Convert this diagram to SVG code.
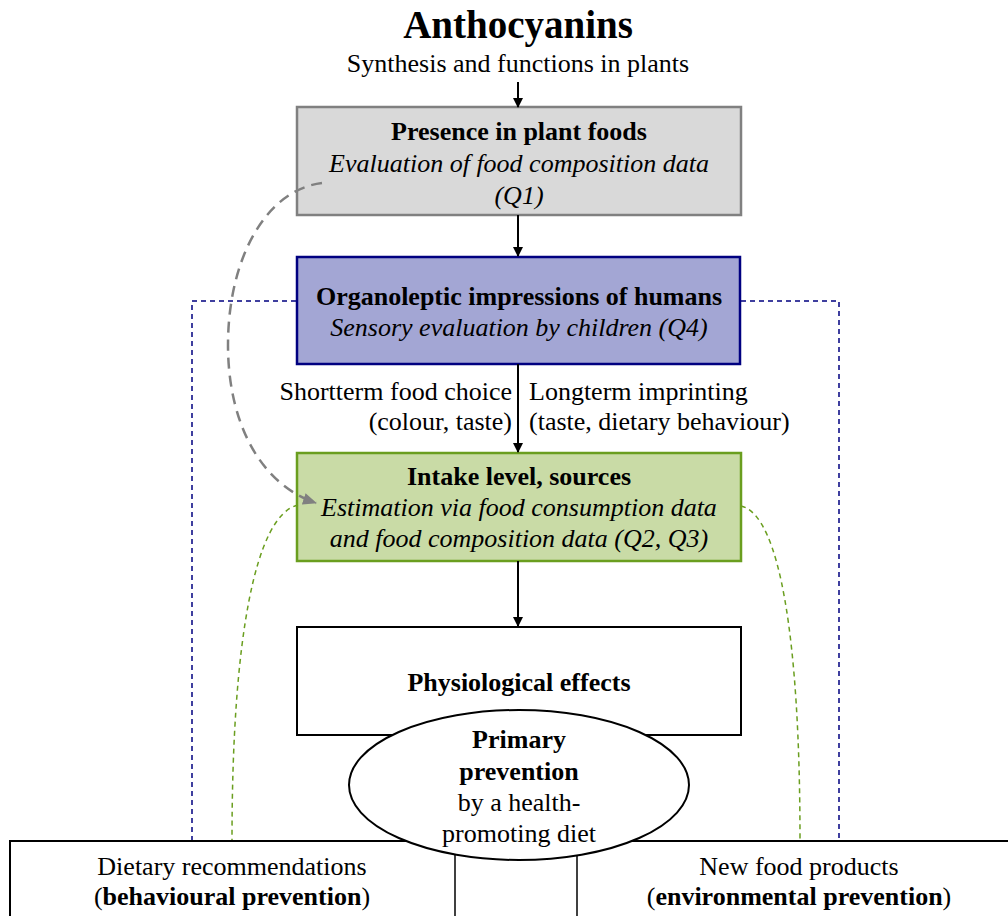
<svg xmlns="http://www.w3.org/2000/svg" width="1008" height="916" viewBox="0 0 1008 916">
<style>
text{font-family:"Liberation Serif","Times New Roman",serif;font-size:26px;fill:#000;text-anchor:middle}
.b{font-weight:bold}
.i{font-style:italic}
.title{font-size:39px;font-weight:bold}
.l{text-anchor:start}
.r{text-anchor:end}
.box{stroke-width:2.5}
.arrow{stroke:#000;stroke-width:2;fill:none;marker-end:url(#ah)}
</style>
<defs>
<marker id="ah" markerWidth="10" markerHeight="10" refX="9" refY="5" orient="auto" markerUnits="userSpaceOnUse">
<path d="M0,0 L10,5 L0,10 z" fill="#000"/>
</marker>
<marker id="ahg" markerWidth="14" markerHeight="12" refX="13" refY="6" orient="auto" markerUnits="userSpaceOnUse">
<path d="M0,0 L14,6 L0,12 z" fill="#808080"/>
</marker>
</defs>
<g id="header">
<text class="title" x="518" y="38">Anthocyanins</text>
<text x="518" y="72">Synthesis and functions in plants</text>
</g>
<g id="bottom">
<path d="M10,916 L10,841 L1010,841" fill="none" stroke="#000" stroke-width="2"/>
<line x1="455" y1="850" x2="455" y2="916" stroke="#000" stroke-width="1.5"/>
<line x1="577" y1="850" x2="577" y2="916" stroke="#000" stroke-width="1.5"/>
<text x="232" y="875">Dietary recommendations</text>
<text x="232" y="905">(<tspan class="b">behavioural prevention</tspan>)</text>
<text x="799" y="875">New food products</text>
<text x="799" y="905">(<tspan class="b">environmental prevention</tspan>)</text>
</g>
<g id="physio">
<rect x="297" y="627" width="444" height="108" fill="#fff" stroke="#000" stroke-width="2"/>
<text class="b" x="519" y="691">Physiological effects</text>
</g>
<g id="prevention">
<ellipse cx="519" cy="785" rx="170" ry="75" fill="#fff" stroke="#000" stroke-width="2"/>
<text class="b" x="519" y="748">Primary</text>
<text class="b" x="519" y="780">prevention</text>
<text x="519" y="811">by a health-</text>
<text x="519" y="842">promoting diet</text>
</g>
<g id="presence">
<rect class="box" x="297" y="107" width="444" height="108" fill="#d9d9d9" stroke="#808080"/>
<text class="b" x="519" y="140">Presence in plant foods</text>
<text class="i" x="519" y="172">Evaluation of food composition data</text>
<text class="i" x="519" y="204">(Q1)</text>
</g>
<g id="organoleptic">
<rect class="box" x="297" y="257" width="443" height="107" fill="#a3a6d4" stroke="#000080"/>
<text class="b" x="519" y="305">Organoleptic impressions of humans</text>
<text class="i" x="519" y="336">Sensory evaluation by children (Q4)</text>
</g>
<g id="intake">
<rect class="box" x="297" y="453" width="444" height="108" fill="#c9dba6" stroke="#6a9e1f"/>
<text class="b" x="519" y="485">Intake level, sources</text>
<text class="i" x="519" y="516">Estimation via food consumption data</text>
<text class="i" x="519" y="547">and food composition data (Q2, Q3)</text>
</g>
<g id="connectors">
<path d="M296,301 L192,301 L192,840" fill="none" stroke="#000080" stroke-width="1.5" stroke-dasharray="5,4"/>
<path d="M741,301 L839,301 L839,840" fill="none" stroke="#000080" stroke-width="1.5" stroke-dasharray="5,4"/>
<path d="M298,505 C255,515 232,640 232,840" fill="none" stroke="#6a9e1f" stroke-width="1.5" stroke-dasharray="5,4"/>
<path d="M741,506 C780,515 800,640 800,840" fill="none" stroke="#6a9e1f" stroke-width="1.5" stroke-dasharray="5,4"/>
<path d="M322,183 C265,190 228,260 228,345 C228,425 262,485 316,503" fill="none" stroke="#808080" stroke-width="2.5" stroke-dasharray="11,7" marker-end="url(#ahg)"/>
<line class="arrow" x1="518" y1="82" x2="518" y2="107"/>
<line class="arrow" x1="518" y1="215" x2="518" y2="256"/>
<line class="arrow" x1="518" y1="364" x2="518" y2="452"/>
<line class="arrow" x1="518" y1="561" x2="518" y2="626"/>
<text class="r" x="512" y="400">Shortterm food choice</text>
<text class="r" x="512" y="430">(colour, taste)</text>
<text class="l" x="529" y="400">Longterm imprinting</text>
<text class="l" x="529" y="430">(taste, dietary behaviour)</text>
</g>
</svg>
